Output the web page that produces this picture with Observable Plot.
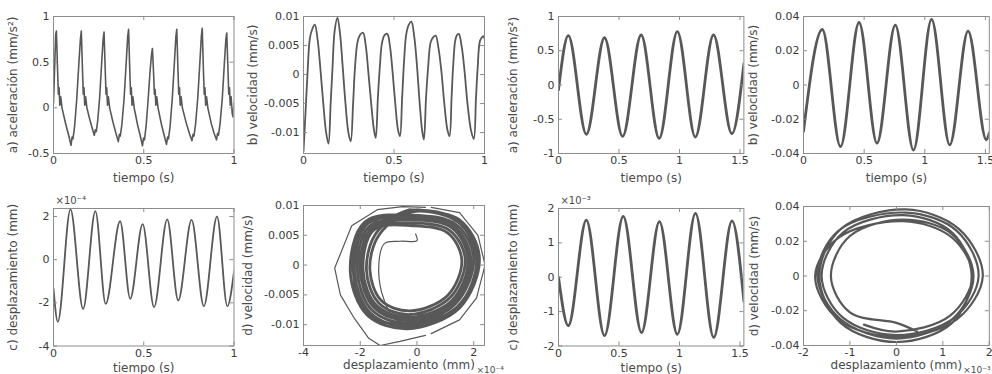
<!DOCTYPE html>
<html><head><meta charset="utf-8">
<script src="https://cdn.jsdelivr.net/npm/d3@7"></script>
<script src="https://cdn.jsdelivr.net/npm/@observablehq/plot@0.6"></script>
<style>
body{margin:0;background:#fff}
#chart{position:relative;width:992px;height:374px;overflow:hidden;background:#fff}
#chart > div{position:absolute}
</style>
</head><body><div id="chart"></div>
<script>
// ---------- tick values ----------
const ticksTimeL = [0, 0.5, 1];
const ticksTimeR = [0, 0.5, 1, 1.5];
const ticksAccL = [-0.5, 0, 0.5, 1];
const ticksVelL = [-0.01, -0.005, 0, 0.005, 0.01];
const ticksDispL = [-4, -2, 0, 2];
const ticksAccR = [-1, -0.5, 0, 0.5, 1];
const ticksVelR = [-0.04, -0.02, 0, 0.02, 0.04];
const ticksDispR = [-2, -1, 0, 1, 2];

// ---------- labels ----------
const labelTime = "tiempo (s)";
const labelDisp = "desplazamiento (mm)";
const labelA = "a) aceleración (mm/s²)";
const labelB = "b) velocidad (mm/s)";
const labelC = "c) desplazamiento (mm)";
const labelD = "d) velocidad (mm/s)";
const expL = "×10⁻⁴";
const expR = "×10⁻³";

// ---------- left case: [t (s), value] ----------
const accL = [[0,0.05],[0.004,0.30],[0.008,0.55],[0.012,0.80],[0.016,0.84],[0.022,0.45],[0.027,0.15],[0.031,0.22],[0.035,0.03],[0.040,0.12],[0.047,0.00],[0.068,-0.18],[0.084,-0.30],[0.097,-0.41],[0.103,-0.32],[0.108,-0.34],[0.117,-0.20],[0.129,0.10],[0.141,0.50],[0.149,0.75],
[0.154,0.84],[0.160,0.45],[0.165,0.15],[0.169,0.22],[0.173,0.03],[0.178,0.12],[0.185,0.00],[0.200,-0.12],[0.214,-0.22],[0.226,-0.30],[0.232,-0.24],[0.237,-0.26],[0.245,-0.14],[0.256,0.12],[0.267,0.50],[0.275,0.75],
[0.280,0.83],[0.286,0.45],[0.291,0.15],[0.295,0.22],[0.299,0.03],[0.304,0.12],[0.311,0.00],[0.330,-0.16],[0.346,-0.28],[0.359,-0.37],[0.365,-0.29],[0.370,-0.31],[0.379,-0.18],[0.391,0.10],[0.403,0.50],[0.411,0.78],
[0.416,0.86],[0.422,0.45],[0.427,0.15],[0.431,0.22],[0.435,0.03],[0.440,0.12],[0.447,0.00],[0.465,-0.18],[0.480,-0.30],[0.493,-0.415],[0.499,-0.33],[0.504,-0.35],[0.513,-0.20],[0.524,0.08],[0.535,0.40],[0.543,0.58],
[0.548,0.65],[0.554,0.40],[0.559,0.15],[0.563,0.20],[0.567,0.03],[0.572,0.12],[0.579,0.00],[0.598,-0.18],[0.613,-0.30],[0.626,-0.40],[0.632,-0.32],[0.637,-0.34],[0.646,-0.20],[0.658,0.10],[0.670,0.50],[0.678,0.78],
[0.683,0.86],[0.689,0.45],[0.694,0.15],[0.698,0.22],[0.702,0.03],[0.707,0.12],[0.714,0.00],[0.736,-0.17],[0.753,-0.28],[0.767,-0.36],[0.773,-0.29],[0.778,-0.31],[0.787,-0.18],[0.799,0.10],[0.811,0.50],[0.819,0.78],
[0.824,0.87],[0.830,0.45],[0.835,0.15],[0.839,0.22],[0.843,0.03],[0.848,0.12],[0.855,0.00],[0.874,-0.17],[0.890,-0.28],[0.903,-0.35],[0.909,-0.28],[0.914,-0.30],[0.923,-0.17],[0.935,0.10],[0.947,0.50],[0.955,0.75],
[0.960,0.82],[0.966,0.45],[0.971,0.15],[0.975,0.22],[0.979,0.03],[0.984,0.12],[0.990,-0.06],[0.995,-0.10],[1.000,0.05]];

const velL = [[0,-0.0132],[0.012,-0.006],[0.022,0.000],[0.035,0.0062],[0.048,0.0078],[0.0625,0.0086],[0.078,0.0060],[0.092,0.0015],[0.108,-0.0045],[0.125,-0.0100],[0.138,-0.0119],
[0.150,-0.005],[0.160,0.001],[0.172,0.0075],[0.1875,0.0098],[0.202,0.0070],[0.215,0.0020],[0.232,-0.0050],[0.248,-0.0100],[0.261,-0.0115],
[0.274,-0.005],[0.284,0.001],[0.298,0.0055],[0.312,0.0068],[0.329,0.0072],[0.344,0.0050],[0.358,0.0005],[0.374,-0.0050],[0.389,-0.0095],[0.399,-0.0109],
[0.411,-0.004],[0.421,0.001],[0.434,0.0055],[0.448,0.0068],[0.463,0.0070],[0.478,0.0048],[0.492,0.0005],[0.507,-0.0050],[0.522,-0.0095],[0.533,-0.0106],
[0.545,-0.004],[0.555,0.002],[0.568,0.0070],[0.582,0.0086],[0.596,0.0091],[0.612,0.0065],[0.627,0.0015],[0.642,-0.0050],[0.656,-0.0098],[0.665,-0.0112],
[0.677,-0.004],[0.688,0.001],[0.702,0.0055],[0.716,0.0064],[0.730,0.0067],[0.746,0.0045],[0.762,0.0005],[0.778,-0.0050],[0.795,-0.0095],[0.807,-0.0106],
[0.818,-0.004],[0.826,0.001],[0.838,0.0058],[0.848,0.0068],[0.858,0.0070],[0.874,0.0048],[0.890,0.0005],[0.906,-0.0050],[0.926,-0.0097],[0.941,-0.0111],
[0.953,-0.004],[0.962,0.001],[0.975,0.0058],[0.988,0.0065],[0.995,0.0066],[1.000,0.0062]];

// displacement in units of 1e-4 mm
const dispL = [[0,-1.34],[0.024,-2.88],[0.094,2.33],[0.164,-2.28],[0.232,2.25],[0.289,-2.05],[0.369,1.78],[0.425,-1.81],[0.494,1.65],[0.557,-2.20],[0.630,1.87],[0.691,-1.89],[0.765,1.84],[0.833,-2.16],[0.906,2.00],[0.963,-2.16],[1.000,-0.55]];

// phase portrait: [displacement (1e-4 mm), velocity (mm/s)]
const phaseL = [
[-0.25,0.0093],[1.5,0.0076],[2.2,0.0012],[1.5,-0.0072],[-0.35,-0.0107],[-1.75,-0.0084],[-2.35,-0.0012],[-1.85,0.0072],
[-0.2,0.0084],[1.38,0.0068],[2.0,0.0011],[1.36,-0.0065],[-0.3,-0.0098],[-1.58,-0.0076],[-2.1,-0.0010],[-1.68,0.0065],
[-0.18,0.0076],[1.24,0.0062],[1.8,0.0009],[1.24,-0.0059],[-0.28,-0.0088],[-1.42,-0.0068],[-1.9,-0.0009],[-1.52,0.0059],
[-0.16,0.0066],[1.08,0.0054],[1.58,0.0008],[1.08,-0.0051],[-0.25,-0.0077],[-1.25,-0.0060],[-1.66,-0.0008],[-1.33,0.0051],
[-0.2,0.0089],[1.45,0.0072],[2.1,0.0010],[1.45,-0.0069],[-0.35,-0.0103],[-1.65,-0.0080],[-2.2,-0.0011],[-1.75,0.0069],
[-0.2,0.0080],[1.3,0.0065],[1.9,0.0010],[1.3,-0.0062],[-0.3,-0.0093],[-1.5,-0.0072],[-2.0,-0.0010],[-1.6,0.0062],
[-0.18,0.0071],[1.16,0.0058],[1.7,0.0009],[1.16,-0.0055],[-0.27,-0.0083],[-1.34,-0.0064],[-1.78,-0.0009],[-1.42,0.0055],
[-0.22,0.0091],[1.48,0.0074],[2.15,0.0011],[1.42,-0.0070],[-0.32,-0.0101],[-1.7,-0.0082],[-2.25,-0.0011],[-1.8,0.0070],
[-0.19,0.0078],[1.27,0.0064],[1.85,0.0010],[1.27,-0.0060],[-0.29,-0.0090],[-1.46,-0.0070],[-1.95,-0.0010],[-1.56,0.0060],[-0.25,0.0093]];
const phaseLOuterLeft = [[0.3,0.0097],[-0.5,0.0098],[-1.4,0.0093],[-2.3,0.0066],[-2.9,-0.0005],[-2.7,-0.0050],[-2.2,-0.0090],[-1.7,-0.0123],[-1.3,-0.0135],[-0.6,-0.0128],[0.3,-0.0118]];
const phaseLOuterRight = [[0.5,0.0097],[1.5,0.0088],[2.15,0.0050],[2.4,0.0000],[2.1,-0.0055],[1.5,-0.0092],[0.5,-0.0115]];
const phaseLInner = [[-0.05,0.0052],[0.0,0.0041],[-0.6,0.0040],[-1.15,0.0036],[-1.35,-0.0010],[-1.15,-0.0060],[-0.8,-0.0090],[-0.2,-0.0098],[0.6,-0.0088]];

// ---------- right case ----------
const accR = [[0,-0.07],[0.081,0.72],[0.230,-0.72],[0.380,0.69],[0.530,-0.75],[0.683,0.73],[0.832,-0.78],[0.982,0.78],[1.131,-0.76],[1.281,0.73],[1.433,-0.71],[1.532,0.31]];
const velR = [[0,-0.027],[0.155,0.0324],[0.305,-0.036],[0.458,0.0365],[0.606,-0.034],[0.757,0.035],[0.907,-0.038],[1.056,0.0383],[1.206,-0.035],[1.357,0.0315],[1.508,-0.032],[1.532,-0.028]];
// displacement in units of 1e-3 mm
const dispR = [[0,0.0],[0.081,-1.41],[0.230,1.66],[0.380,-1.70],[0.535,1.77],[0.686,-1.61],[0.834,1.62],[0.982,-1.66],[1.132,1.86],[1.283,-1.75],[1.434,1.64],[1.532,-0.70]];
const phaseR = [[0.45,-0.032],[0.0,-0.027],[-1.0,-0.021],[-1.41,0.0],[-1.0,0.023],[0.15,0.0324],[1.2,0.024],[1.66,0.0],[1.2,-0.025],[0.0,-0.036],[-1.2,-0.025],[-1.70,0.0],[-1.25,0.026],[0.2,0.0365],[1.3,0.026],[1.77,0.0],[1.25,-0.024],[0.0,-0.034],[-1.15,-0.024],[-1.61,0.0],[-1.15,0.025],[0.15,0.035],[1.2,0.025],[1.62,0.0],[1.2,-0.027],[0.0,-0.038],[-1.2,-0.027],[-1.66,0.0],[-1.2,0.027],[0.2,0.0383],[1.35,0.027],[1.86,0.0],[1.3,-0.025],[0.0,-0.035],[-1.25,-0.025],[-1.75,0.0],[-1.25,0.022],[0.15,0.0315],[1.2,0.022],[1.64,0.0],[1.15,-0.023],[0.0,-0.032],[-0.7,-0.028]];

// ---------- drawing ----------
const LINE = "#585858";
const FRAME = "#8c8c8c";
const LABEL = "#4a4a4a";
const fmt = d => String(d);
const X = d => d[0], Y = d => d[1];

function panel(c) {
  const ML = 70, MR = 12, MT = 22, MB = 34, TL = 4;
  const marks = [
    ...c.lines.map(l => Plot.line(l.data, {x: X, y: Y, stroke: LINE, strokeWidth: l.sw, curve: l.curve, clip: true, strokeLinejoin: "round"})),
    Plot.frame({stroke: FRAME}),
    Plot.tickX(c.xTicks, {x: d => d, insetTop: c.fh - TL, stroke: FRAME}),
    Plot.tickX(c.xTicks, {x: d => d, insetBottom: c.fh - TL, stroke: FRAME}),
    Plot.tickY(c.yTicks, {y: d => d, insetRight: c.fw - TL, stroke: FRAME}),
    Plot.tickY(c.yTicks, {y: d => d, insetLeft: c.fw - TL, stroke: FRAME}),
    Plot.axisX({ticks: c.xTicks, tickSize: 0, tickPadding: 3, tickFormat: fmt, label: null}),
    Plot.axisY({ticks: c.yTicks, tickSize: 0, tickPadding: 4, tickFormat: fmt, label: null}),
    Plot.text([c.yLabel], {text: d => d, frameAnchor: "left", textAnchor: "middle", lineAnchor: "middle", rotate: -90, dx: -c.yOff, fontSize: 12, fill: LABEL}),
    Plot.text([c.xLabel], {text: d => d, frameAnchor: "bottom", textAnchor: "middle", lineAnchor: "middle", dy: c.xDy, dx: c.xDx || 0, fontSize: 12, fill: LABEL})
  ];
  if (c.yExp) marks.push(Plot.text([c.yExp], {text: d => d, frameAnchor: "top-left", textAnchor: "start", lineAnchor: "middle", dx: 2, dy: -8, fontSize: 10, fill: LABEL}));
  if (c.xExp) marks.push(Plot.text([c.xExp], {text: d => d, frameAnchor: "bottom-right", textAnchor: "start", lineAnchor: "middle", dx: c.xExpDx, dy: 25, fontSize: 9, fill: LABEL}));
  const svg = Plot.plot({
    width: c.fw + ML + MR, height: c.fh + MT + MB,
    marginLeft: ML, marginRight: MR, marginTop: MT, marginBottom: MB,
    x: {domain: c.xDomain}, y: {domain: c.yDomain},
    style: {fontFamily: "'DejaVu Sans', sans-serif", fontSize: "11px", color: "#3a3a3a", background: "transparent", overflow: "visible", maxWidth: "none"},
    marks
  });
  const div = document.createElement("div");
  div.style.left = (c.fx - ML) + "px";
  div.style.top = (c.fy - MT) + "px";
  div.appendChild(svg);
  document.getElementById("chart").appendChild(div);
}

// top row
panel({fx: 53, fy: 16, fw: 180.5, fh: 137, xDomain: [0, 1], yDomain: [-0.5, 1], xTicks: ticksTimeL, yTicks: ticksAccL,
  lines: [{data: accL, sw: 1.6, curve: "linear"}], yLabel: labelA, yOff: 40, xLabel: labelTime, xDy: 25});
panel({fx: 303, fy: 16, fw: 181, fh: 137, xDomain: [0, 1], yDomain: [-0.0136, 0.01], xTicks: ticksTimeL, yTicks: ticksVelL,
  lines: [{data: velL, sw: 1.8, curve: "catmull-rom"}], yLabel: labelB, yOff: 50, xLabel: labelTime, xDy: 25});
panel({fx: 558.3, fy: 16, fw: 185.4, fh: 137, xDomain: [0, 1.532], yDomain: [-1, 1], xTicks: ticksTimeR, yTicks: ticksAccR,
  lines: [{data: accR, sw: 2.8, curve: "monotone-x"}], yLabel: labelA, yOff: 45, xLabel: labelTime, xDy: 25});
panel({fx: 802.5, fy: 16, fw: 185.8, fh: 137, xDomain: [0, 1.532], yDomain: [-0.04, 0.04], xTicks: ticksTimeR, yTicks: ticksVelR,
  lines: [{data: velR, sw: 2.8, curve: "monotone-x"}], yLabel: labelB, yOff: 50, xLabel: labelTime, xDy: 25});
// bottom row
panel({fx: 53, fy: 207.5, fw: 180.5, fh: 137.5, xDomain: [0, 1], yDomain: [-4, 2.37], xTicks: ticksTimeL, yTicks: ticksDispL,
  lines: [{data: dispL, sw: 1.8, curve: "monotone-x"}], yLabel: labelC, yOff: 40, xLabel: labelTime, xDy: 22, yExp: expL});
panel({fx: 303, fy: 205, fw: 181, fh: 140, xDomain: [-4, 2.38], yDomain: [-0.0135, 0.01], xTicks: ticksDispL, yTicks: ticksVelL,
  lines: [{data: phaseL, sw: 2.8, curve: "catmull-rom"}, {data: phaseLOuterLeft, sw: 1.2, curve: "linear"}, {data: phaseLOuterRight, sw: 1.2, curve: "linear"}, {data: phaseLInner, sw: 1.2, curve: "catmull-rom"}],
  yLabel: labelD, yOff: 55, xLabel: labelDisp, xDy: 20, xDx: 15, xExp: expL, xExpDx: -8});
panel({fx: 558.3, fy: 207.5, fw: 185.4, fh: 137.5, xDomain: [0, 1.532], yDomain: [-2, 2], xTicks: ticksTimeR, yTicks: ticksDispR,
  lines: [{data: dispR, sw: 2.8, curve: "monotone-x"}], yLabel: labelC, yOff: 45, xLabel: labelTime, xDy: 22, yExp: expR});
panel({fx: 802.5, fy: 205.5, fw: 185.8, fh: 139, xDomain: [-2, 2], yDomain: [-0.04, 0.04], xTicks: ticksDispR, yTicks: ticksVelR,
  lines: [{data: phaseR, sw: 2.2, curve: "catmull-rom"}],
  yLabel: labelD, yOff: 49, xLabel: labelDisp, xDy: 20, xDx: 0, xExp: expR, xExpDx: -26});
</script>
</body></html>
